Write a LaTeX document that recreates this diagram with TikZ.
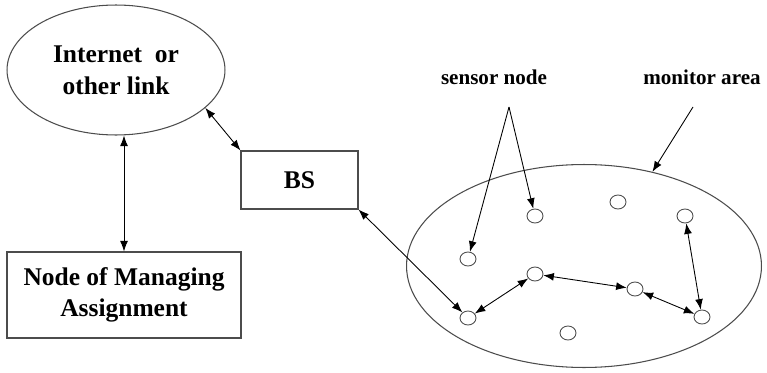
\documentclass[tikz,border=0pt]{standalone}
\usepackage{fontspec}
\setmainfont{Liberation Serif}
\usetikzlibrary{arrows.meta,shapes.geometric}
\begin{document}
\begin{tikzpicture}[x=0.02cm, y=-0.02cm]
  \tikzstyle{blob}=[ellipse, draw=black!70, line width=0.6pt, inner sep=0pt]
  \tikzstyle{boxed}=[rectangle, draw=black!70, line width=0.6pt, align=center,
                     font=\fontsize{14.5}{18}\selectfont\bfseries]
  \tikzstyle{mote}=[ellipse, draw=black!70, line width=0.5pt, minimum width=0.32cm,
                    minimum height=0.28cm, inner sep=0pt]
  \tikzstyle{link}=[{Latex[length=6pt,width=4.5pt]}-{Latex[length=6pt,width=4.5pt]}, line width=0.5pt]
  \tikzstyle{hint}=[-{Latex[length=6pt,width=4.5pt]}, line width=0.5pt]
  \tikzstyle{tag}=[font=\fontsize{12}{14}\selectfont\bfseries]
  \useasboundingbox (0,0) rectangle (767,372);

  % left side
  \node[blob, minimum width=4.36cm, minimum height=2.6cm, align=center,
        font=\fontsize{14.5}{18}\selectfont\bfseries] (inet) at (116,70) {Internet~~or\\other link};
  \node[boxed, minimum width=4.68cm, minimum height=1.72cm] (nma) at (124,295) {Node of Managing\\Assignment};
  \node[boxed, minimum width=2.34cm, minimum height=1.16cm] (bs) at (299.5,180) {BS};

  % monitor area with sensors
  \node[blob, minimum width=7.1cm, minimum height=4.06cm] (area) at (584,266) {};
  \node[mote] (s1) at (535,216) {};
  \node[mote] (s2) at (618,202) {};
  \node[mote] (s3) at (685,216) {};
  \node[mote] (s4) at (468,259) {};
  \node[mote] (s5) at (535,274) {};
  \node[mote] (s6) at (635,289) {};
  \node[mote] (s7) at (468,318) {};
  \node[mote] (s8) at (702,317) {};
  \node[mote] (s9) at (568,333) {};

  \node[tag] (snlbl) at (494,77) {sensor node};
  \node[tag] (malbl) at (702,77) {monitor area};
  \coordinate (sn) at (509,107);
  \coordinate (ma) at (693,107);

  \draw[link] (nma.north) -- (nma.north |- inet.south);
  \draw[link] (inet.-23) -- (bs.north west);
  \draw[link] (bs.south east) -- (s7);
  \draw[link] (s7) -- (s5);
  \draw[link] (s5) -- (s6);
  \draw[link] (s6) -- (s8);
  \draw[link] (s8) -- (s3);
  \draw[hint] (sn) -- (s4);
  \draw[hint] (sn) -- (s1);
  \draw[hint] (ma) -- (area.54);
\end{tikzpicture}
\end{document}
